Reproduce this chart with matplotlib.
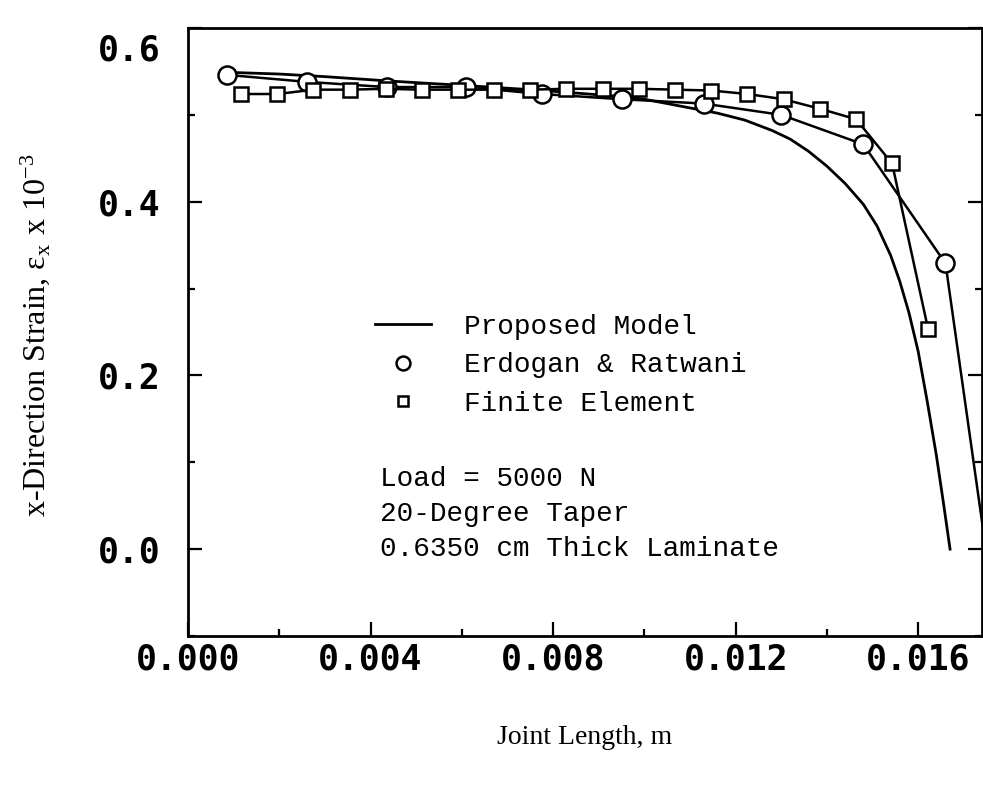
import matplotlib
matplotlib.use("Agg")
import matplotlib.pyplot as plt
from matplotlib.lines import Line2D
from matplotlib.ticker import MultipleLocator, FormatStrFormatter
import matplotlib.transforms as mtransforms

plt.rcParams["mathtext.fontset"] = "stix"

# Proposed model (smooth curve)
model_x = [0.00086, 0.0020, 0.0030, 0.0044, 0.0060, 0.0078, 0.0095, 0.0100, 0.0108, 0.0116,
           0.0122, 0.0128, 0.0132, 0.0136, 0.0140, 0.0144, 0.0148, 0.0151, 0.0154, 0.0156,
           0.0158, 0.0160, 0.0162, 0.0164, 0.01655, 0.0167]
model_y = [0.549, 0.547, 0.544, 0.539, 0.534, 0.528, 0.521, 0.518, 0.510, 0.502,
           0.494, 0.482, 0.472, 0.458, 0.441, 0.421, 0.397, 0.372, 0.338, 0.308,
           0.272, 0.228, 0.170, 0.108, 0.055, 0.0]

# Erdogan & Ratwani (circles)
er_x = [0.00086, 0.0026, 0.00435, 0.0061, 0.00776, 0.0095, 0.0113, 0.0130, 0.0148, 0.0166, 0.0184]
er_y = [0.546, 0.538, 0.532, 0.532, 0.524, 0.518, 0.513, 0.500, 0.466, 0.329, -0.34]

# Finite element (squares)
fe_x = [0.00116, 0.00196, 0.00275, 0.00354, 0.00433, 0.00512, 0.00591, 0.00670, 0.00750, 0.00829,
        0.00910, 0.00989, 0.01068, 0.01147, 0.01226, 0.01305, 0.01385, 0.01464, 0.01543, 0.01622]
fe_y = [0.524, 0.524, 0.529, 0.529, 0.530, 0.529, 0.529, 0.529, 0.529, 0.530,
        0.530, 0.530, 0.529, 0.528, 0.524, 0.518, 0.507, 0.495, 0.444, 0.253]

mono = "DejaVu Sans Mono"
typew = "Liberation Mono"
serif = "Liberation Serif"

fig = plt.figure(figsize=(9.83, 7.85), dpi=100)
ax = fig.add_axes([188 / 983, 1 - 636 / 785, 794 / 983, 608 / 785])

ax.plot(model_x, model_y, color="black", lw=2.0)
ax.plot(er_x, er_y, color="black", lw=1.8, marker="o", ms=13, mfc="white", mec="black", mew=1.8)
ax.plot(fe_x, fe_y, color="black", lw=1.8, marker="s", ms=9.5, mfc="white", mec="black", mew=1.8)

ax.set_xlim(0, 0.0174)
ax.set_ylim(-0.1, 0.6)

ax.xaxis.set_major_locator(MultipleLocator(0.004))
ax.xaxis.set_minor_locator(MultipleLocator(0.002))
ax.yaxis.set_major_locator(MultipleLocator(0.2))
ax.yaxis.set_minor_locator(MultipleLocator(0.1))
ax.xaxis.set_major_formatter(FormatStrFormatter("%.3f"))
ax.yaxis.set_major_formatter(FormatStrFormatter("%.1f"))
ax.set_yticks([0.0, 0.2, 0.4, 0.6])

ax.tick_params(which="both", direction="in", top=False, right=True, width=1.6)
ax.tick_params(which="major", length=10)
ax.tick_params(which="minor", length=5)
ax.tick_params(axis="x", which="major", pad=5)
ax.tick_params(axis="y", which="major", pad=20)
for lab in ax.get_xticklabels() + ax.get_yticklabels():
    lab.set_fontfamily(mono)
    lab.set_fontweight("bold")
    lab.set_fontsize(25)

for s in ax.spines.values():
    s.set_linewidth(2.0)

# top label sits a little lower in the original
off = mtransforms.ScaledTranslation(0, -14 / 72, fig.dpi_scale_trans)
for lab in ax.get_yticklabels():
    if lab.get_text() == "0.6":
        lab.set_transform(lab.get_transform() + off)

fig.text(585 / 983, 1 - 738 / 785, "Joint Length, m", family=serif, fontsize=20,
         ha="center", va="center")
fig.text(36 / 983, 1 - 335 / 785, "x-Direction Strain, ε$_\\mathregular{x}$ x 10$^{\\mathregular{-3}}$",
         family=serif, fontsize=23, ha="center", va="center", rotation=90)

handles = [
    Line2D([], [], color="black", lw=2.0),
    Line2D([], [], ls="none", marker="o", ms=10, mfc="white", mec="black", mew=1.8),
    Line2D([], [], ls="none", marker="s", ms=7, mfc="white", mec="black", mew=1.8),
]
ax.legend(handles, ["Proposed Model", "Erdogan & Ratwani", "Finite Element"],
          loc="upper left", bbox_to_anchor=((375 - 188) / 794, (636 - 314) / 608),
          frameon=False, borderpad=0, borderaxespad=0, handlelength=2.0,
          handletextpad=1.2, labelspacing=0.45, prop={"family": typew, "size": 20})

ax.text((380 - 188) / 794, (636 - 466) / 608,
        "Load = 5000 N\n20-Degree Taper\n0.6350 cm Thick Laminate",
        transform=ax.transAxes, family=typew, fontsize=20, va="top", ha="left",
        linespacing=1.45)

plt.savefig("out.png", dpi=100)
